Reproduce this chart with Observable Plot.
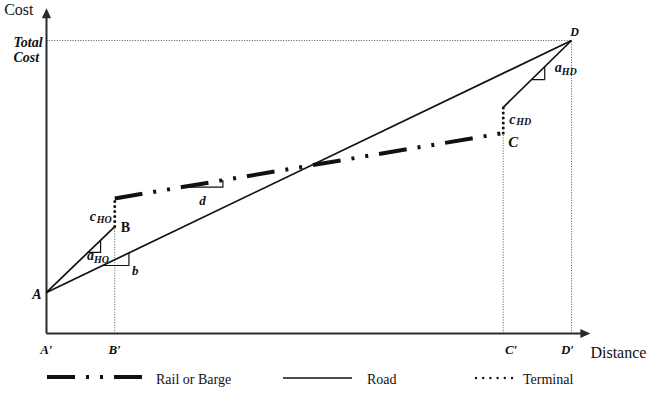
<!DOCTYPE html>
<html>
<head>
<meta charset="utf-8">
<script src="https://cdn.jsdelivr.net/npm/d3@7"></script>
<script src="https://cdn.jsdelivr.net/npm/@observablehq/plot@0.6"></script>
<style>
  html, body { margin: 0; padding: 0; background: #fff; }
  #chart { width: 660px; height: 407px; overflow: hidden; background: #fff; }
  #chart svg { display: block; }
</style>
</head>
<body>
<div id="chart"></div>
<script>
// ---- Data (distance: D′ = 100, cost: Total Cost = 100) ----
const distLabels = ["A′", "B′", "C′", "D′"];
const distValues = [0, 13, 87, 100];
const nodeNames = ["A", "B", "C", "D"];
const nodeCosts = [14, 36.5, 68.4, 100];
const handlingCosts = [9.6, 8.8];          // c_HO at B, c_HD at C
const slopeNames = ["aHO", "b", "d", "aHD"];
const slopeFrom = [7.9, 10.7, 25.8, 92.4]; // distance span of each slope marker
const slopeTo = [10.3, 15.7, 33.6, 94.9];
const axisMaxDistance = 103.6;
const axisMaxCost = 111;
const legendLabels = ["Rail or Barge", "Road", "Terminal"];

// ---- Derived geometry ----
const P = nodeNames.map((n, i) => ({ name: n, x: distValues[i], y: nodeCosts[i] }));
const [A, B, C, D] = P;
const Bt = { x: B.x, y: B.y + handlingCosts[0] };
const Ct = { x: C.x, y: C.y + handlingCosts[1] };
const seg = (p, q) => ({ x1: p.x, y1: p.y, x2: q.x, y2: q.y });
const road = [seg(A, D), seg(A, B), seg(Ct, D)];
const rail = [seg(Bt, C)];
const terminal = [seg(B, Bt), seg(C, Ct)];
const guides = [
  seg({ x: B.x, y: 0 }, B), seg({ x: C.x, y: 0 }, C),
  seg({ x: D.x, y: 0 }, D), seg({ x: 0, y: D.y }, D)
];
const slopeSegs = [[A, B], [A, D], [Bt, C], [Ct, D]];
const yOn = (i, x) => {
  const [p, q] = slopeSegs[i];
  return p.y + (x - p.x) * (q.y - p.y) / (q.x - p.x);
};
const triPts = slopeNames.flatMap((k, i) => [
  { k, x: slopeFrom[i], y: yOn(i, slopeFrom[i]) },
  { k, x: slopeTo[i], y: yOn(i, slopeFrom[i]) },
  { k, x: slopeTo[i], y: yOn(i, slopeTo[i]) }
]);
const triLeft = i => ({ x: slopeFrom[i], y: yOn(i, slopeFrom[i]) });
const triRight = i => ({ x: slopeTo[i], y: yOn(i, slopeFrom[i]) });
const triMid = i => ({ x: (slopeFrom[i] + slopeTo[i]) / 2, y: yOn(i, slopeFrom[i]) });

// ---- Styling ----
const F = "Liberation Serif, Times New Roman, serif";
const ink = "#111";
const axisInk = "#2a2a2a";
const railDash = "28,11,3,11,3,11";
const tickNudge = [0, 0, 8, -4];

const headUp = { draw(c) { c.moveTo(0, 0); c.lineTo(4.6, 10); c.lineTo(-4.6, 10); c.closePath(); } };
const headRight = { draw(c) { c.moveTo(0, 0); c.lineTo(-10, -4.6); c.lineTo(-10, 4.6); c.closePath(); } };

function label(p, s, o) {
  return Plot.text([{ x: p.x, y: p.y, t: s }], {
    x: "x", y: "y", text: "t", fontFamily: F, fill: ink, ...o
  });
}
const BI = { fontWeight: "bold", fontStyle: "italic" };

const tickMarks = distValues.map((v, i) =>
  label({ x: v, y: 0 }, distLabels[i], { textAnchor: "middle", dx: tickNudge[i], dy: 16, fontSize: 13, ...BI })
);

const plot = Plot.plot({
  width: 660,
  height: 362,
  marginLeft: 46,
  marginRight: 89,
  marginTop: 40,
  marginBottom: 29,
  x: { domain: [0, 100], axis: null },
  y: { domain: [0, 100], axis: null },
  style: { background: "#fff", overflow: "visible" },
  marks: [
    // guide lines
    Plot.link(guides, { x1: "x1", y1: "y1", x2: "x2", y2: "y2", stroke: "#555", strokeWidth: 1, strokeDasharray: "1,1.6" }),
    // axes
    Plot.link([{ x1: 0, y1: 0, x2: 0, y2: axisMaxCost - 2 }], { x1: "x1", y1: "y1", x2: "x2", y2: "y2", stroke: axisInk, strokeWidth: 2 }),
    Plot.link([{ x1: 0, y1: 0, x2: axisMaxDistance - 1, y2: 0 }], { x1: "x1", y1: "y1", x2: "x2", y2: "y2", stroke: axisInk, strokeWidth: 2 }),
    Plot.dot([{ x: 0, y: axisMaxCost }], { x: "x", y: "y", symbol: headUp, fill: axisInk, stroke: "none" }),
    Plot.dot([{ x: axisMaxDistance, y: 0 }], { x: "x", y: "y", symbol: headRight, fill: axisInk, stroke: "none" }),
    // road
    Plot.link(road, { x1: "x1", y1: "y1", x2: "x2", y2: "y2", stroke: ink, strokeWidth: 1.7 }),
    // rail / barge
    Plot.link(rail, { x1: "x1", y1: "y1", x2: "x2", y2: "y2", stroke: ink, strokeWidth: 4, strokeDasharray: railDash }),
    // terminal
    Plot.link(terminal, { x1: "x1", y1: "y1", x2: "x2", y2: "y2", stroke: ink, strokeWidth: 3, strokeDasharray: "0,5", strokeLinecap: "round" }),
    // slope triangles
    Plot.line(triPts, { x: "x", y: "y", z: "k", stroke: ink, strokeWidth: 1.2 }),
    // axis titles
    label({ x: 0, y: axisMaxCost }, "Cost", { textAnchor: "end", dx: -13, dy: 2, fontSize: 16 }),
    label({ x: axisMaxDistance, y: 0 }, "Distance", { textAnchor: "start", dx: 0, dy: 19, fontSize: 16 }),
    label({ x: 0, y: D.y }, "Total\nCost", { textAnchor: "start", dx: -33, dy: 9, fontSize: 14, lineHeight: 1.1, ...BI }),
    // distance tick labels
    ...tickMarks,
    // node labels
    label(A, "A", { textAnchor: "end", dx: -5, dy: 2, fontSize: 14, ...BI }),
    label(B, "B", { textAnchor: "start", dx: 6, dy: 1, fontSize: 14, fontWeight: "bold" }),
    label(C, "C", { textAnchor: "start", dx: 5, dy: 9, fontSize: 15, ...BI }),
    label(D, "D", { textAnchor: "middle", dx: 3, dy: -8, fontSize: 12, ...BI }),
    // c_HO
    label(B, "c", { textAnchor: "start", dx: -25, dy: -10, fontSize: 14, ...BI }),
    label(B, "HO", { textAnchor: "start", dx: -18, dy: -7, fontSize: 10, ...BI }),
    // a_HO
    label(triLeft(0), "a", { textAnchor: "start", dx: -1, dy: 3, fontSize: 14, ...BI }),
    label(triLeft(0), "HO", { textAnchor: "start", dx: 6, dy: 7, fontSize: 10, ...BI }),
    // b
    label(triRight(1), "b", { textAnchor: "start", dx: 3, dy: 5, fontSize: 13, ...BI }),
    // d
    label(triMid(2), "d", { textAnchor: "middle", dx: 0, dy: 14, fontSize: 13, ...BI }),
    // c_HD
    label(C, "c", { textAnchor: "start", dx: 6, dy: -14, fontSize: 14, ...BI }),
    label(C, "HD", { textAnchor: "start", dx: 13, dy: -11, fontSize: 10, ...BI }),
    // a_HD
    label(triRight(3), "a", { textAnchor: "start", dx: 10, dy: -12, fontSize: 14, ...BI }),
    label(triRight(3), "HD", { textAnchor: "start", dx: 17, dy: -8, fontSize: 10, ...BI })
  ]
});

const chart = document.getElementById("chart");
chart.appendChild(plot);

// ---- Legend (below the plot) ----
const leg = d3.create("svg").attr("width", 660).attr("height", 45)
  .style("display", "block").style("font-family", F);
const ly = 15;
leg.append("line").attr("x1", 47).attr("x2", 143).attr("y1", ly).attr("y2", ly)
  .attr("stroke", ink).attr("stroke-width", 4).attr("stroke-dasharray", railDash);
leg.append("text").attr("x", 156).attr("y", ly + 3).attr("dy", "0.32em")
  .attr("font-size", 14).attr("fill", ink).text(legendLabels[0]);
leg.append("line").attr("x1", 283).attr("x2", 352).attr("y1", ly + 1).attr("y2", ly + 1)
  .attr("stroke", ink).attr("stroke-width", 1.6);
leg.append("text").attr("x", 367).attr("y", ly + 3).attr("dy", "0.32em")
  .attr("font-size", 14).attr("fill", ink).text(legendLabels[1]);
leg.append("line").attr("x1", 476).attr("x2", 513).attr("y1", ly + 1).attr("y2", ly + 1)
  .attr("stroke", ink).attr("stroke-width", 2.4).attr("stroke-dasharray", "0,7.2")
  .attr("stroke-linecap", "round");
leg.append("text").attr("x", 523).attr("y", ly + 3).attr("dy", "0.32em")
  .attr("font-size", 14).attr("fill", ink).text(legendLabels[2]);
chart.appendChild(leg.node());
</script>
</body>
</html>
